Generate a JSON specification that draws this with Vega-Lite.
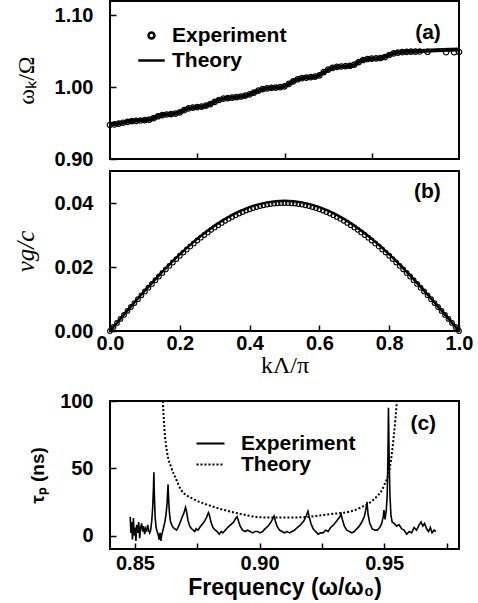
{
  "$schema": "https://vega.github.io/schema/vega-lite/v6.json",
  "background": "white",
  "padding": {"left": 12, "top": 0, "right": 15, "bottom": 5},
  "config": {
    "view": {"stroke": "black", "strokeWidth": 2},
    "font": "Liberation Sans",
    "axis": {
      "domain": false, "grid": false, "tickColor": "black", "tickWidth": 1.5, "tickSize": -6,
      "labelFont": "Liberation Sans", "labelFontWeight": "bold", "labelFontSize": 20,
      "labelColor": "black", "titleColor": "black", "titleFontWeight": "normal",
      "labelFlush": false, "labelOverlap": false, "labelBound": false
    },
    "legend": {"labelFont": "Liberation Sans", "labelFontWeight": "bold", "labelFontSize": 21, "labelColor": "black", "padding": 0, "symbolOpacity": 1},
    "text": {"font": "Liberation Sans", "fontWeight": "bold", "fontSize": 21, "color": "black"}
  },
  "datasets": {
    "a_theory": [
      {"k": 0.000, "w": 0.9480}, {"k": 0.020, "w": 0.9490}, {"k": 0.040, "w": 0.9510}, {"k": 0.060, "w": 0.9528},
      {"k": 0.090, "w": 0.9538}, {"k": 0.115, "w": 0.9550}, {"k": 0.130, "w": 0.9580}, {"k": 0.145, "w": 0.9610},
      {"k": 0.165, "w": 0.9622}, {"k": 0.190, "w": 0.9635}, {"k": 0.205, "w": 0.9660}, {"k": 0.220, "w": 0.9700},
      {"k": 0.240, "w": 0.9718}, {"k": 0.270, "w": 0.9735}, {"k": 0.290, "w": 0.9770}, {"k": 0.310, "w": 0.9820},
      {"k": 0.330, "w": 0.9845}, {"k": 0.360, "w": 0.9860}, {"k": 0.395, "w": 0.9890}, {"k": 0.415, "w": 0.9930},
      {"k": 0.440, "w": 0.9975}, {"k": 0.460, "w": 0.9990}, {"k": 0.490, "w": 1.0000}, {"k": 0.510, "w": 1.0040},
      {"k": 0.535, "w": 1.0105}, {"k": 0.555, "w": 1.0130}, {"k": 0.590, "w": 1.0145}, {"k": 0.610, "w": 1.0200},
      {"k": 0.635, "w": 1.0265}, {"k": 0.660, "w": 1.0285}, {"k": 0.695, "w": 1.0300}, {"k": 0.715, "w": 1.0360},
      {"k": 0.735, "w": 1.0390}, {"k": 0.775, "w": 1.0405}, {"k": 0.795, "w": 1.0440}, {"k": 0.820, "w": 1.0480},
      {"k": 0.860, "w": 1.0495}, {"k": 0.920, "w": 1.0512}, {"k": 1.000, "w": 1.0525}
    ],
    "a_exp": [
      {"k": 0.0000, "w": 0.9475}, {"k": 0.0125, "w": 0.9482}, {"k": 0.0250, "w": 0.9492}, {"k": 0.0375, "w": 0.9505},
      {"k": 0.0500, "w": 0.9518}, {"k": 0.0625, "w": 0.9528}, {"k": 0.0750, "w": 0.9532}, {"k": 0.0875, "w": 0.9536},
      {"k": 0.1000, "w": 0.9542}, {"k": 0.1125, "w": 0.9548}, {"k": 0.1250, "w": 0.9568}, {"k": 0.1375, "w": 0.9595},
      {"k": 0.1500, "w": 0.9612}, {"k": 0.1625, "w": 0.9620}, {"k": 0.1750, "w": 0.9626}, {"k": 0.1875, "w": 0.9633},
      {"k": 0.2000, "w": 0.9648}, {"k": 0.2125, "w": 0.9680}, {"k": 0.2250, "w": 0.9705}, {"k": 0.2375, "w": 0.9716},
      {"k": 0.2500, "w": 0.9722}, {"k": 0.2625, "w": 0.9730}, {"k": 0.2750, "w": 0.9742}, {"k": 0.2875, "w": 0.9765},
      {"k": 0.3000, "w": 0.9795}, {"k": 0.3125, "w": 0.9822}, {"k": 0.3250, "w": 0.9840}, {"k": 0.3375, "w": 0.9848},
      {"k": 0.3500, "w": 0.9855}, {"k": 0.3625, "w": 0.9862}, {"k": 0.3750, "w": 0.9870}, {"k": 0.3875, "w": 0.9882},
      {"k": 0.4000, "w": 0.9900}, {"k": 0.4125, "w": 0.9925}, {"k": 0.4250, "w": 0.9952}, {"k": 0.4375, "w": 0.9972},
      {"k": 0.4500, "w": 0.9983}, {"k": 0.4625, "w": 0.9990}, {"k": 0.4750, "w": 0.9995}, {"k": 0.4875, "w": 1.0000},
      {"k": 0.5000, "w": 1.0012}, {"k": 0.5125, "w": 1.0045}, {"k": 0.5250, "w": 1.0080}, {"k": 0.5375, "w": 1.0110},
      {"k": 0.5500, "w": 1.0125}, {"k": 0.5625, "w": 1.0134}, {"k": 0.5750, "w": 1.0140}, {"k": 0.5875, "w": 1.0146},
      {"k": 0.6000, "w": 1.0165}, {"k": 0.6125, "w": 1.0210}, {"k": 0.6250, "w": 1.0245}, {"k": 0.6375, "w": 1.0270},
      {"k": 0.6500, "w": 1.0282}, {"k": 0.6625, "w": 1.0288}, {"k": 0.6750, "w": 1.0293}, {"k": 0.6875, "w": 1.0298},
      {"k": 0.7000, "w": 1.0315}, {"k": 0.7125, "w": 1.0350}, {"k": 0.7250, "w": 1.0378}, {"k": 0.7375, "w": 1.0392},
      {"k": 0.7500, "w": 1.0397}, {"k": 0.7625, "w": 1.0402}, {"k": 0.7750, "w": 1.0406}, {"k": 0.7875, "w": 1.0420},
      {"k": 0.8000, "w": 1.0448}, {"k": 0.8125, "w": 1.0470}, {"k": 0.8250, "w": 1.0482}, {"k": 0.8375, "w": 1.0488},
      {"k": 0.8500, "w": 1.0492}, {"k": 0.8625, "w": 1.0494}, {"k": 0.8750, "w": 1.0496}, {"k": 0.8875, "w": 1.0497},
      {"k": 0.9100, "w": 1.0493}, {"k": 0.9630, "w": 1.0488}, {"k": 0.9860, "w": 1.0488}, {"k": 1.0000, "w": 1.0490}
    ],
    "b_theory": [
      {"k": 0.00, "v": 0}, {"k": 0.05, "v": 0.00637}, {"k": 0.10, "v": 0.01258}, {"k": 0.15, "v": 0.01848},
      {"k": 0.20, "v": 0.02392}, {"k": 0.25, "v": 0.02878}, {"k": 0.30, "v": 0.03293}, {"k": 0.35, "v": 0.03626},
      {"k": 0.40, "v": 0.03871}, {"k": 0.45, "v": 0.04020}, {"k": 0.50, "v": 0.04070}, {"k": 0.55, "v": 0.04020},
      {"k": 0.60, "v": 0.03871}, {"k": 0.65, "v": 0.03626}, {"k": 0.70, "v": 0.03293}, {"k": 0.75, "v": 0.02878},
      {"k": 0.80, "v": 0.02392}, {"k": 0.85, "v": 0.01848}, {"k": 0.90, "v": 0.01258}, {"k": 0.95, "v": 0.00637},
      {"k": 1.00, "v": 0}
    ],
    "b_exp": [
      {"k": 0.00, "v": 0}, {"k": 0.01, "v": 0.00126}, {"k": 0.02, "v": 0.00251}, {"k": 0.03, "v": 0.00376},
      {"k": 0.04, "v": 0.00501}, {"k": 0.05, "v": 0.00626}, {"k": 0.06, "v": 0.00750}, {"k": 0.07, "v": 0.00873},
      {"k": 0.08, "v": 0.00995}, {"k": 0.09, "v": 0.01116}, {"k": 0.10, "v": 0.01236}, {"k": 0.11, "v": 0.01355},
      {"k": 0.12, "v": 0.01472}, {"k": 0.13, "v": 0.01589}, {"k": 0.14, "v": 0.01703}, {"k": 0.15, "v": 0.01816},
      {"k": 0.16, "v": 0.01927}, {"k": 0.17, "v": 0.02036}, {"k": 0.18, "v": 0.02143}, {"k": 0.19, "v": 0.02248},
      {"k": 0.20, "v": 0.02351}, {"k": 0.21, "v": 0.02452}, {"k": 0.22, "v": 0.02550}, {"k": 0.23, "v": 0.02645},
      {"k": 0.24, "v": 0.02738}, {"k": 0.25, "v": 0.02828}, {"k": 0.26, "v": 0.02916}, {"k": 0.27, "v": 0.03000},
      {"k": 0.28, "v": 0.03082}, {"k": 0.29, "v": 0.03161}, {"k": 0.30, "v": 0.03236}, {"k": 0.31, "v": 0.03308},
      {"k": 0.32, "v": 0.03377}, {"k": 0.33, "v": 0.03443}, {"k": 0.34, "v": 0.03505}, {"k": 0.35, "v": 0.03564},
      {"k": 0.36, "v": 0.03619}, {"k": 0.37, "v": 0.03671}, {"k": 0.38, "v": 0.03719}, {"k": 0.39, "v": 0.03764},
      {"k": 0.40, "v": 0.03804}, {"k": 0.41, "v": 0.03841}, {"k": 0.42, "v": 0.03874}, {"k": 0.43, "v": 0.03904},
      {"k": 0.44, "v": 0.03929}, {"k": 0.45, "v": 0.03951}, {"k": 0.46, "v": 0.03968}, {"k": 0.47, "v": 0.03982},
      {"k": 0.48, "v": 0.03992}, {"k": 0.49, "v": 0.03998}, {"k": 0.50, "v": 0.04000}, {"k": 0.51, "v": 0.03998},
      {"k": 0.52, "v": 0.03992}, {"k": 0.53, "v": 0.03982}, {"k": 0.54, "v": 0.03968}, {"k": 0.55, "v": 0.03951},
      {"k": 0.56, "v": 0.03929}, {"k": 0.57, "v": 0.03904}, {"k": 0.58, "v": 0.03874}, {"k": 0.59, "v": 0.03841},
      {"k": 0.60, "v": 0.03804}, {"k": 0.61, "v": 0.03764}, {"k": 0.62, "v": 0.03719}, {"k": 0.63, "v": 0.03671},
      {"k": 0.64, "v": 0.03619}, {"k": 0.65, "v": 0.03564}, {"k": 0.66, "v": 0.03505}, {"k": 0.67, "v": 0.03443},
      {"k": 0.68, "v": 0.03377}, {"k": 0.69, "v": 0.03308}, {"k": 0.70, "v": 0.03236}, {"k": 0.71, "v": 0.03161},
      {"k": 0.72, "v": 0.03082}, {"k": 0.73, "v": 0.03000}, {"k": 0.74, "v": 0.02916}, {"k": 0.75, "v": 0.02828},
      {"k": 0.76, "v": 0.02738}, {"k": 0.77, "v": 0.02645}, {"k": 0.78, "v": 0.02550}, {"k": 0.79, "v": 0.02452},
      {"k": 0.80, "v": 0.02351}, {"k": 0.81, "v": 0.02248}, {"k": 0.82, "v": 0.02143}, {"k": 0.83, "v": 0.02036},
      {"k": 0.84, "v": 0.01927}, {"k": 0.85, "v": 0.01816}, {"k": 0.86, "v": 0.01703}, {"k": 0.87, "v": 0.01589},
      {"k": 0.88, "v": 0.01472}, {"k": 0.89, "v": 0.01355}, {"k": 0.90, "v": 0.01236}, {"k": 0.91, "v": 0.01116},
      {"k": 0.92, "v": 0.00995}, {"k": 0.93, "v": 0.00873}, {"k": 0.94, "v": 0.00750}, {"k": 0.95, "v": 0.00626},
      {"k": 0.96, "v": 0.00501}, {"k": 0.97, "v": 0.00376}, {"k": 0.98, "v": 0.00251}, {"k": 0.99, "v": 0.00126},
      {"k": 1.00, "v": 0}
    ],
    "c_theory": [
      {"f": 0.8612, "tau": 100}, {"f": 0.8618, "tau": 80}, {"f": 0.8629, "tau": 62}, {"f": 0.8645, "tau": 51},
      {"f": 0.8665, "tau": 42}, {"f": 0.8685, "tau": 34}, {"f": 0.8737, "tau": 27}, {"f": 0.8805, "tau": 22},
      {"f": 0.8913, "tau": 16.5}, {"f": 0.9018, "tau": 13.5}, {"f": 0.9154, "tau": 13.5}, {"f": 0.9286, "tau": 16},
      {"f": 0.9367, "tau": 18}, {"f": 0.9407, "tau": 21}, {"f": 0.9459, "tau": 27}, {"f": 0.9499, "tau": 37},
      {"f": 0.9523, "tau": 51}, {"f": 0.9539, "tau": 75}, {"f": 0.9551, "tau": 100}
    ],
    "c_exp": [
      {"f": 0.8481, "tau": 14}, {"f": 0.8484, "tau": 2}, {"f": 0.8487, "tau": 10}, {"f": 0.8490, "tau": -3},
      {"f": 0.8494, "tau": 13}, {"f": 0.8497, "tau": 0}, {"f": 0.8500, "tau": 6}, {"f": 0.8504, "tau": -4},
      {"f": 0.8507, "tau": 8}, {"f": 0.8511, "tau": 2}, {"f": 0.8515, "tau": 10}, {"f": 0.8519, "tau": -2},
      {"f": 0.8523, "tau": 6}, {"f": 0.8527, "tau": 9}, {"f": 0.8531, "tau": 3}, {"f": 0.8535, "tau": 7},
      {"f": 0.8539, "tau": 1}, {"f": 0.8543, "tau": 5}, {"f": 0.8547, "tau": 3}, {"f": 0.8551, "tau": 8},
      {"f": 0.8555, "tau": 4}, {"f": 0.8559, "tau": 2}, {"f": 0.8563, "tau": 4}, {"f": 0.8567, "tau": 10},
      {"f": 0.8571, "tau": 20}, {"f": 0.8574, "tau": 34}, {"f": 0.8576, "tau": 47}, {"f": 0.8578, "tau": 30},
      {"f": 0.8581, "tau": 14}, {"f": 0.8585, "tau": 6}, {"f": 0.8589, "tau": 3}, {"f": 0.8593, "tau": 1},
      {"f": 0.8597, "tau": -3}, {"f": 0.8601, "tau": 2}, {"f": 0.8604, "tau": -4}, {"f": 0.8607, "tau": 0},
      {"f": 0.8611, "tau": 3}, {"f": 0.8615, "tau": 6}, {"f": 0.8620, "tau": 10}, {"f": 0.8625, "tau": 16},
      {"f": 0.8629, "tau": 24}, {"f": 0.8631, "tau": 32}, {"f": 0.8633, "tau": 38}, {"f": 0.8635, "tau": 28},
      {"f": 0.8638, "tau": 18}, {"f": 0.8642, "tau": 11}, {"f": 0.8647, "tau": 8}, {"f": 0.8653, "tau": 6},
      {"f": 0.8660, "tau": 5}, {"f": 0.8667, "tau": 4}, {"f": 0.8673, "tau": 6}, {"f": 0.8680, "tau": 9},
      {"f": 0.8688, "tau": 13}, {"f": 0.8697, "tau": 17}, {"f": 0.8703, "tau": 21}, {"f": 0.8707, "tau": 18},
      {"f": 0.8713, "tau": 11}, {"f": 0.8720, "tau": 7}, {"f": 0.8727, "tau": 5}, {"f": 0.8734, "tau": 4},
      {"f": 0.8740, "tau": 3}, {"f": 0.8746, "tau": 5}, {"f": 0.8753, "tau": 4}, {"f": 0.8760, "tau": 6},
      {"f": 0.8768, "tau": 8}, {"f": 0.8777, "tau": 10}, {"f": 0.8786, "tau": 13}, {"f": 0.8795, "tau": 17},
      {"f": 0.8799, "tau": 15}, {"f": 0.8805, "tau": 10}, {"f": 0.8813, "tau": 6}, {"f": 0.8822, "tau": 4},
      {"f": 0.8830, "tau": 3}, {"f": 0.8838, "tau": 1}, {"f": 0.8846, "tau": 3}, {"f": 0.8853, "tau": 2},
      {"f": 0.8862, "tau": 4}, {"f": 0.8872, "tau": 6}, {"f": 0.8884, "tau": 8}, {"f": 0.8896, "tau": 10},
      {"f": 0.8905, "tau": 13}, {"f": 0.8910, "tau": 14}, {"f": 0.8915, "tau": 11}, {"f": 0.8922, "tau": 7},
      {"f": 0.8932, "tau": 4}, {"f": 0.8942, "tau": 3}, {"f": 0.8952, "tau": 4}, {"f": 0.8962, "tau": 3},
      {"f": 0.8972, "tau": 2}, {"f": 0.8982, "tau": 3}, {"f": 0.8992, "tau": 3}, {"f": 0.9002, "tau": 2},
      {"f": 0.9012, "tau": 3}, {"f": 0.9022, "tau": 5}, {"f": 0.9034, "tau": 7}, {"f": 0.9046, "tau": 10},
      {"f": 0.9054, "tau": 13}, {"f": 0.9058, "tau": 14.5}, {"f": 0.9063, "tau": 11}, {"f": 0.9070, "tau": 7},
      {"f": 0.9080, "tau": 4}, {"f": 0.9090, "tau": 3}, {"f": 0.9100, "tau": 2}, {"f": 0.9110, "tau": 3},
      {"f": 0.9120, "tau": 2}, {"f": 0.9130, "tau": 3}, {"f": 0.9140, "tau": 4}, {"f": 0.9152, "tau": 6},
      {"f": 0.9165, "tau": 8}, {"f": 0.9178, "tau": 11}, {"f": 0.9188, "tau": 15}, {"f": 0.9194, "tau": 18},
      {"f": 0.9199, "tau": 14}, {"f": 0.9206, "tau": 9}, {"f": 0.9215, "tau": 5}, {"f": 0.9225, "tau": 3},
      {"f": 0.9235, "tau": 1}, {"f": 0.9245, "tau": 2}, {"f": 0.9255, "tau": 2}, {"f": 0.9265, "tau": 4},
      {"f": 0.9275, "tau": 3}, {"f": 0.9285, "tau": 6}, {"f": 0.9297, "tau": 8}, {"f": 0.9310, "tau": 11},
      {"f": 0.9322, "tau": 14}, {"f": 0.9327, "tau": 16}, {"f": 0.9332, "tau": 12}, {"f": 0.9340, "tau": 7},
      {"f": 0.9350, "tau": 4}, {"f": 0.9360, "tau": 3}, {"f": 0.9370, "tau": 2}, {"f": 0.9380, "tau": 3},
      {"f": 0.9390, "tau": 5}, {"f": 0.9400, "tau": 7}, {"f": 0.9410, "tau": 10}, {"f": 0.9420, "tau": 14},
      {"f": 0.9427, "tau": 20}, {"f": 0.9431, "tau": 25}, {"f": 0.9435, "tau": 16}, {"f": 0.9442, "tau": 9},
      {"f": 0.9452, "tau": 5}, {"f": 0.9462, "tau": 4}, {"f": 0.9472, "tau": 4}, {"f": 0.9482, "tau": 6},
      {"f": 0.9490, "tau": 9}, {"f": 0.9496, "tau": 14}, {"f": 0.9499, "tau": 19}, {"f": 0.9503, "tau": 12},
      {"f": 0.9508, "tau": 18}, {"f": 0.9512, "tau": 30}, {"f": 0.9515, "tau": 60}, {"f": 0.9517, "tau": 95},
      {"f": 0.9520, "tau": 55}, {"f": 0.9523, "tau": 30}, {"f": 0.9527, "tau": 15}, {"f": 0.9532, "tau": 10},
      {"f": 0.9540, "tau": 9}, {"f": 0.9550, "tau": 7}, {"f": 0.9560, "tau": 8}, {"f": 0.9570, "tau": 5},
      {"f": 0.9580, "tau": 4}, {"f": 0.9590, "tau": 1}, {"f": 0.9600, "tau": 3}, {"f": 0.9610, "tau": 2},
      {"f": 0.9620, "tau": 6}, {"f": 0.9630, "tau": 4}, {"f": 0.9640, "tau": 8}, {"f": 0.9648, "tau": 10},
      {"f": 0.9655, "tau": 7}, {"f": 0.9662, "tau": 9}, {"f": 0.9670, "tau": 5}, {"f": 0.9678, "tau": 3},
      {"f": 0.9685, "tau": 6}, {"f": 0.9692, "tau": 2}, {"f": 0.9700, "tau": 4}, {"f": 0.9708, "tau": 3}
    ]
  },
  "spacing": 12,
  "vconcat": [
    {
      "spacing": 0,
      "vconcat": [
        {
          "width": 349, "height": 158,
          "layer": [
            {
              "data": {"name": "a_theory"},
              "mark": {"type": "line", "color": "black", "strokeWidth": 4, "interpolate": "monotone"},
              "encoding": {
                "x": {"field": "k", "type": "quantitative", "scale": {"domain": [0, 1]},
                      "axis": {"values": [0.25, 0.5, 0.75], "labels": false, "title": null, "minExtent": 0, "maxExtent": 0}},
                "y": {"field": "w", "type": "quantitative", "scale": {"domain": [0.9, 1.1]},
                      "axis": {"values": [0.9, 0.925, 0.95, 0.975, 1.0, 1.025, 1.05, 1.075, 1.1], "format": ".2f",
                               "labelExpr": "round(datum.value*1000) % 50 == 0 ? datum.label : ''",
                               "labelPadding": 23, "title": "ωₖ/Ω", "titleFont": "Liberation Serif", "titleFontSize": 24, "titlePadding": 16}}
              }
            },
            {
              "data": {"name": "a_exp"},
              "mark": {"type": "point", "filled": false, "color": "black", "opacity": 1, "size": 30, "strokeWidth": 1.2},
              "encoding": {
                "x": {"field": "k", "type": "quantitative"},
                "y": {"field": "w", "type": "quantitative"},
                "shape": {"datum": "Experiment", "type": "nominal",
                          "scale": {"domain": ["Experiment", "Theory"], "range": ["circle", "M-4.4,0H4.4"]},
                          "legend": {"orient": "none", "legendX": 31, "legendY": 24, "title": null,
                                     "symbolSize": 36, "symbolStrokeColor": "black", "symbolFillColor": "transparent",
                                     "symbolOpacity": 1, "symbolStrokeWidth": 2.5, "labelOffset": 10, "rowPadding": 3}}
              }
            },
            {
              "data": {"values": [{"label": "(a)"}]},
              "mark": {"type": "text", "align": "right", "baseline": "alphabetic"},
              "encoding": {
                "text": {"field": "label"},
                "x": {"datum": 0.948, "type": "quantitative"},
                "y": {"datum": 1.067, "type": "quantitative"}
              }
            }
          ]
        },
        {
          "width": 349, "height": 160,
          "layer": [
            {
              "data": {"name": "b_theory"},
              "mark": {"type": "line", "color": "black", "strokeWidth": 2.5, "interpolate": "monotone"},
              "encoding": {
                "x": {"field": "k", "type": "quantitative", "scale": {"domain": [0, 1]},
                      "axis": {"values": [0, 0.1, 0.2, 0.3, 0.4, 0.5, 0.6, 0.7, 0.8, 0.9, 1.0], "format": ".1f",
                               "labelExpr": "round(datum.value*10) % 2 == 0 ? datum.label : ''",
                               "labelPadding": 8, "title": "kΛ/π", "titleFont": "Liberation Serif", "titleFontSize": 24, "titlePadding": 0}},
                "y": {"field": "v", "type": "quantitative", "scale": {"domain": [0, 0.05]},
                      "axis": {"values": [0, 0.01, 0.02, 0.03, 0.04], "format": ".2f",
                               "labelExpr": "round(datum.value*100) % 2 == 0 ? datum.label : ''",
                               "labelPadding": 23, "title": "vg/c", "titleFont": "Liberation Serif", "titleFontStyle": "italic", "titleFontSize": 25, "titlePadding": 16}}
              }
            },
            {
              "data": {"name": "b_exp"},
              "mark": {"type": "point", "filled": false, "color": "black", "opacity": 1, "size": 22, "strokeWidth": 1.1},
              "encoding": {
                "x": {"field": "k", "type": "quantitative"},
                "y": {"field": "v", "type": "quantitative"}
              }
            },
            {
              "data": {"values": [{"label": "(b)"}]},
              "mark": {"type": "text", "align": "right", "baseline": "alphabetic"},
              "encoding": {
                "text": {"field": "label"},
                "x": {"datum": 0.948, "type": "quantitative"},
                "y": {"datum": 0.0416, "type": "quantitative"}
              }
            }
          ]
        }
      ]
    },
    {
      "width": 349, "height": 148,
      "layer": [
        {
          "data": {"name": "c_theory"},
          "mark": {"type": "line", "color": "black", "strokeWidth": 2, "interpolate": "monotone", "clip": true},
          "encoding": {
            "x": {"field": "f", "type": "quantitative", "scale": {"domain": [0.84, 0.98]},
                  "axis": {"values": [0.85, 0.875, 0.9, 0.925, 0.95, 0.975], "format": ".2f",
                           "labelExpr": "round(datum.value*1000) % 50 == 0 ? datum.label : ''",
                           "labelPadding": 10, "title": "Frequency (ω/ω₀)", "titleFont": "Liberation Sans", "titleFontWeight": "bold", "titleFontSize": 23, "titlePadding": 3}},
            "y": {"field": "tau", "type": "quantitative", "scale": {"domain": [-5, 100]},
                  "axis": {"values": [0, 25, 50, 75, 100], "format": "d",
                           "labelExpr": "datum.value % 50 == 0 ? datum.label : ''",
                           "labelPadding": 23, "title": "τₚ (ns)", "titleFont": "Liberation Sans", "titleFontWeight": "bold", "titleFontSize": 19, "titlePadding": 12}},
            "strokeDash": {"datum": "c_theory", "type": "nominal"}
          }
        },
        {
          "data": {"name": "c_exp"},
          "mark": {"type": "line", "color": "black", "strokeWidth": 1.6},
          "encoding": {
            "x": {"field": "f", "type": "quantitative"},
            "y": {"field": "tau", "type": "quantitative"},
            "strokeDash": {"datum": "c_exp", "type": "nominal",
                           "scale": {"domain": ["c_exp", "c_theory"], "range": [[1, 0], [2, 2]]},
                           "legend": {"orient": "none", "legendX": 90, "legendY": 432, "title": null,
                                      "symbolType": "M-2.8,0H2.8",
                                      "labelExpr": "datum.value == 'c_exp' ? 'Experiment' : 'Theory'",
                                      "symbolSize": 100, "symbolStrokeWidth": 2, "symbolStrokeColor": "black",
                                      "labelOffset": 20, "rowPadding": -4}}
          }
        },
        {
          "data": {"values": [{"label": "(c)"}]},
          "mark": {"type": "text", "align": "right", "baseline": "alphabetic"},
          "encoding": {
            "text": {"field": "label"},
            "x": {"datum": 0.9708, "type": "quantitative"},
            "y": {"datum": 78.6, "type": "quantitative"}
          }
        }
      ]
    }
  ]
}
